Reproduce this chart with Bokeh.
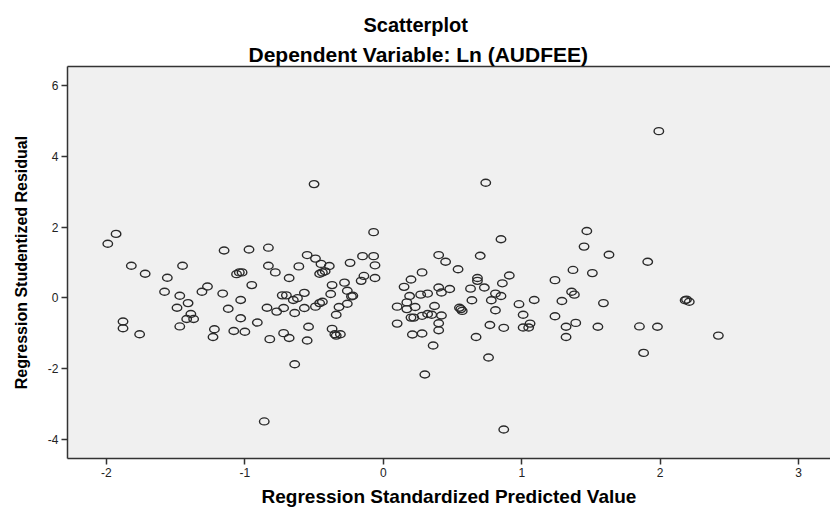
from bokeh.plotting import figure
from bokeh.models import Range1d, FixedTicker, LinearAxis, Title
from bokeh.embed import file_html
from bokeh.resources import INLINE

# Regression Standardized Predicted Value
x_pred = [
    -1.93, -1.99, -1.82, -1.72, -1.56, -1.45, -1.15, -0.97, -0.83, -0.83,
    -1.06, -1.04, -1.02, -0.95, -1.27, -1.31, -1.16, -1.58, -1.47, -1.41,
    -1.49, -1.03, -1.12, -0.84, -1.39, -1.42, -1.37, -1.03, -0.91, -1.88,
    -1.88, -1.76, -1.47, -1.22, -1.23, -1.08, -1.00, -0.82,
    -0.78, -0.68, -0.61, -0.55, -0.49, -0.45, -0.39, -0.46, -0.44, -0.42,
    -0.07, -0.24, -0.15, -0.07, -0.06, -0.14, -0.16, -0.06, -0.28, -0.37,
    -0.38, -0.26, -0.23, -0.22, -0.26, -0.32, -0.34, -0.73, -0.70, -0.65,
    -0.62, -0.57, -0.77, -0.72, -0.64, -0.57, -0.49, -0.46, -0.44, -0.54,
    -0.37, -0.35, -0.34, -0.31, -0.72, -0.68, -0.55, -0.64,
    0.40, 0.45, 0.28, 0.20, 0.15, 0.40, 0.42, 0.32, 0.27, 0.19,
    0.17, 0.10, 0.17, 0.23, 0.37, 0.20, 0.22, 0.28, 0.32, 0.35,
    0.42, 0.10, 0.40, 0.40, 0.21, 0.28, 0.36, 0.48,
    0.85, 1.47, 1.45, 1.63, 0.70, 0.54, 0.68, 0.68, 0.91, 0.86,
    0.73, 0.63, 0.81, 0.85, 0.64, 0.78, 0.55, 0.56, 0.57, 0.81,
    0.77, 0.87, 0.67, 0.76, 0.98, 1.09, 1.01, 1.06, 1.05, 1.01,
    1.24, 1.37, 1.51, 1.36, 1.38, 1.29, 1.59, 1.24, 1.39, 1.32,
    1.32, 1.55,
    1.91, 2.19, 2.21, 2.18, 1.85, 1.98, 2.42, 1.88,
    -0.86, 0.30, 0.87, 1.99, 0.74, -0.50,
]

# Regression Studentized Residual
y_resid = [
    1.81, 1.53, 0.91, 0.68, 0.57, 0.91, 1.34, 1.37, 1.42, 0.91,
    0.67, 0.72, 0.72, 0.36, 0.32, 0.17, 0.12, 0.17, 0.06, -0.15,
    -0.28, -0.06, -0.31, -0.28, -0.46, -0.60, -0.60, -0.58, -0.70, -0.67,
    -0.86, -1.03, -0.81, -0.89, -1.11, -0.94, -0.96, -1.17,
    0.72, 0.56, 0.89, 1.21, 1.11, 0.96, 0.90, 0.68, 0.72, 0.75,
    1.86, 0.99, 1.18, 1.18, 0.92, 0.62, 0.48, 0.56, 0.43, 0.36,
    0.11, 0.20, 0.04, 0.06, -0.17, -0.26, -0.48, 0.07, 0.07, -0.06,
    -0.01, 0.14, -0.39, -0.29, -0.43, -0.29, -0.25, -0.15, -0.11, -0.82,
    -0.88, -1.03, -1.07, -1.03, -1.00, -1.14, -1.21, -1.88,
    1.21, 1.02, 0.72, 0.52, 0.31, 0.29, 0.15, 0.12, 0.09, 0.05,
    -0.13, -0.25, -0.32, -0.26, -0.23, -0.56, -0.56, -0.51, -0.46, -0.48,
    -0.50, -0.73, -0.72, -0.92, -1.04, -1.01, -1.35, 0.25,
    1.66, 1.89, 1.45, 1.22, 1.19, 0.81, 0.56, 0.48, 0.63, 0.41,
    0.29, 0.26, 0.12, 0.05, -0.07, -0.07, -0.28, -0.32, -0.37, -0.35,
    -0.77, -0.85, -1.11, -1.69, -0.18, -0.06, -0.48, -0.73, -0.84, -0.84,
    0.50, 0.79, 0.70, 0.17, 0.09, -0.09, -0.15, -0.52, -0.71, -0.82,
    -1.11, -0.82,
    1.02, -0.05, -0.11, -0.07, -0.81, -0.82, -1.07, -1.56,
    -3.50, -2.17, -3.73, 4.72, 3.26, 3.22,
]

x_ticks = [-2, -1, 0, 1, 2, 3]
y_ticks = [-4, -2, 0, 2, 4, 6]

FONT = "Liberation Sans"
AX = "#333333"

p = figure(width=830, height=509, output_backend="svg", toolbar_location=None,
           x_range=Range1d(-2.281, 3.23), y_range=Range1d(-4.55, 6.55),
           min_border_left=67, min_border_right=0, min_border_bottom=51,
           min_border_top=66)
p.background_fill_color = "#F0F0F0"
p.border_fill_color = "white"
p.outline_line_color = None
p.grid.visible = False

p.ellipse(x=x_pred, y=y_resid, width=9.5, height=7,
          width_units="screen", height_units="screen",
          fill_color=None, line_color="#2a2a2a", line_width=1.4)

for ax, ticks in ((p.xaxis[0], x_ticks), (p.yaxis[0], y_ticks)):
    ax.ticker = FixedTicker(ticks=ticks)
    ax.major_label_overrides = {t: str(t) for t in ticks}
    ax.axis_line_color = AX
    ax.axis_line_width = 1.5
    ax.major_tick_line_color = AX
    ax.major_tick_line_width = 1.5
    ax.major_tick_out = 6
    ax.major_tick_in = 0
    ax.minor_tick_line_color = None
    ax.major_label_text_font = FONT
    ax.major_label_text_font_size = "12px"
    ax.major_label_text_color = "#222222"
    ax.axis_label_text_font = FONT
    ax.axis_label_text_font_style = "bold"
    ax.axis_label_text_color = "black"

p.xaxis.axis_label = "Regression Standardized Predicted Value"
p.xaxis.axis_label_text_font_size = "19px"
p.xaxis.major_label_standoff = 3
p.xaxis.axis_label_standoff = 6

p.yaxis.axis_label = "Regression Studentized Residual"
p.yaxis.axis_label_text_font_size = "16px"
p.yaxis.major_label_standoff = 3
p.yaxis.axis_label_standoff = 15

top = LinearAxis(ticker=FixedTicker(ticks=[]), major_tick_out=0, major_tick_in=0,
                 minor_tick_out=0, minor_tick_in=0, major_label_standoff=0,
                 major_label_text_font_size="0px",
                 axis_line_color=AX, axis_line_width=1.5)
p.add_layout(top, "above")

p.add_layout(Title(text="Dependent Variable: Ln (AUDFEE)", align="left", offset=181,
                   text_font=FONT, text_font_size="21px", text_font_style="bold",
                   text_color="black", standoff=1), "above")

p.title.text = "Scatterplot"
p.title.align = "left"
p.title.offset = 296
p.title.text_font = FONT
p.title.text_font_size = "20px"
p.title.text_font_style = "bold"
p.title.text_color = "black"
p.title.standoff = 10

open("out.html", "w").write(file_html(p, INLINE))
